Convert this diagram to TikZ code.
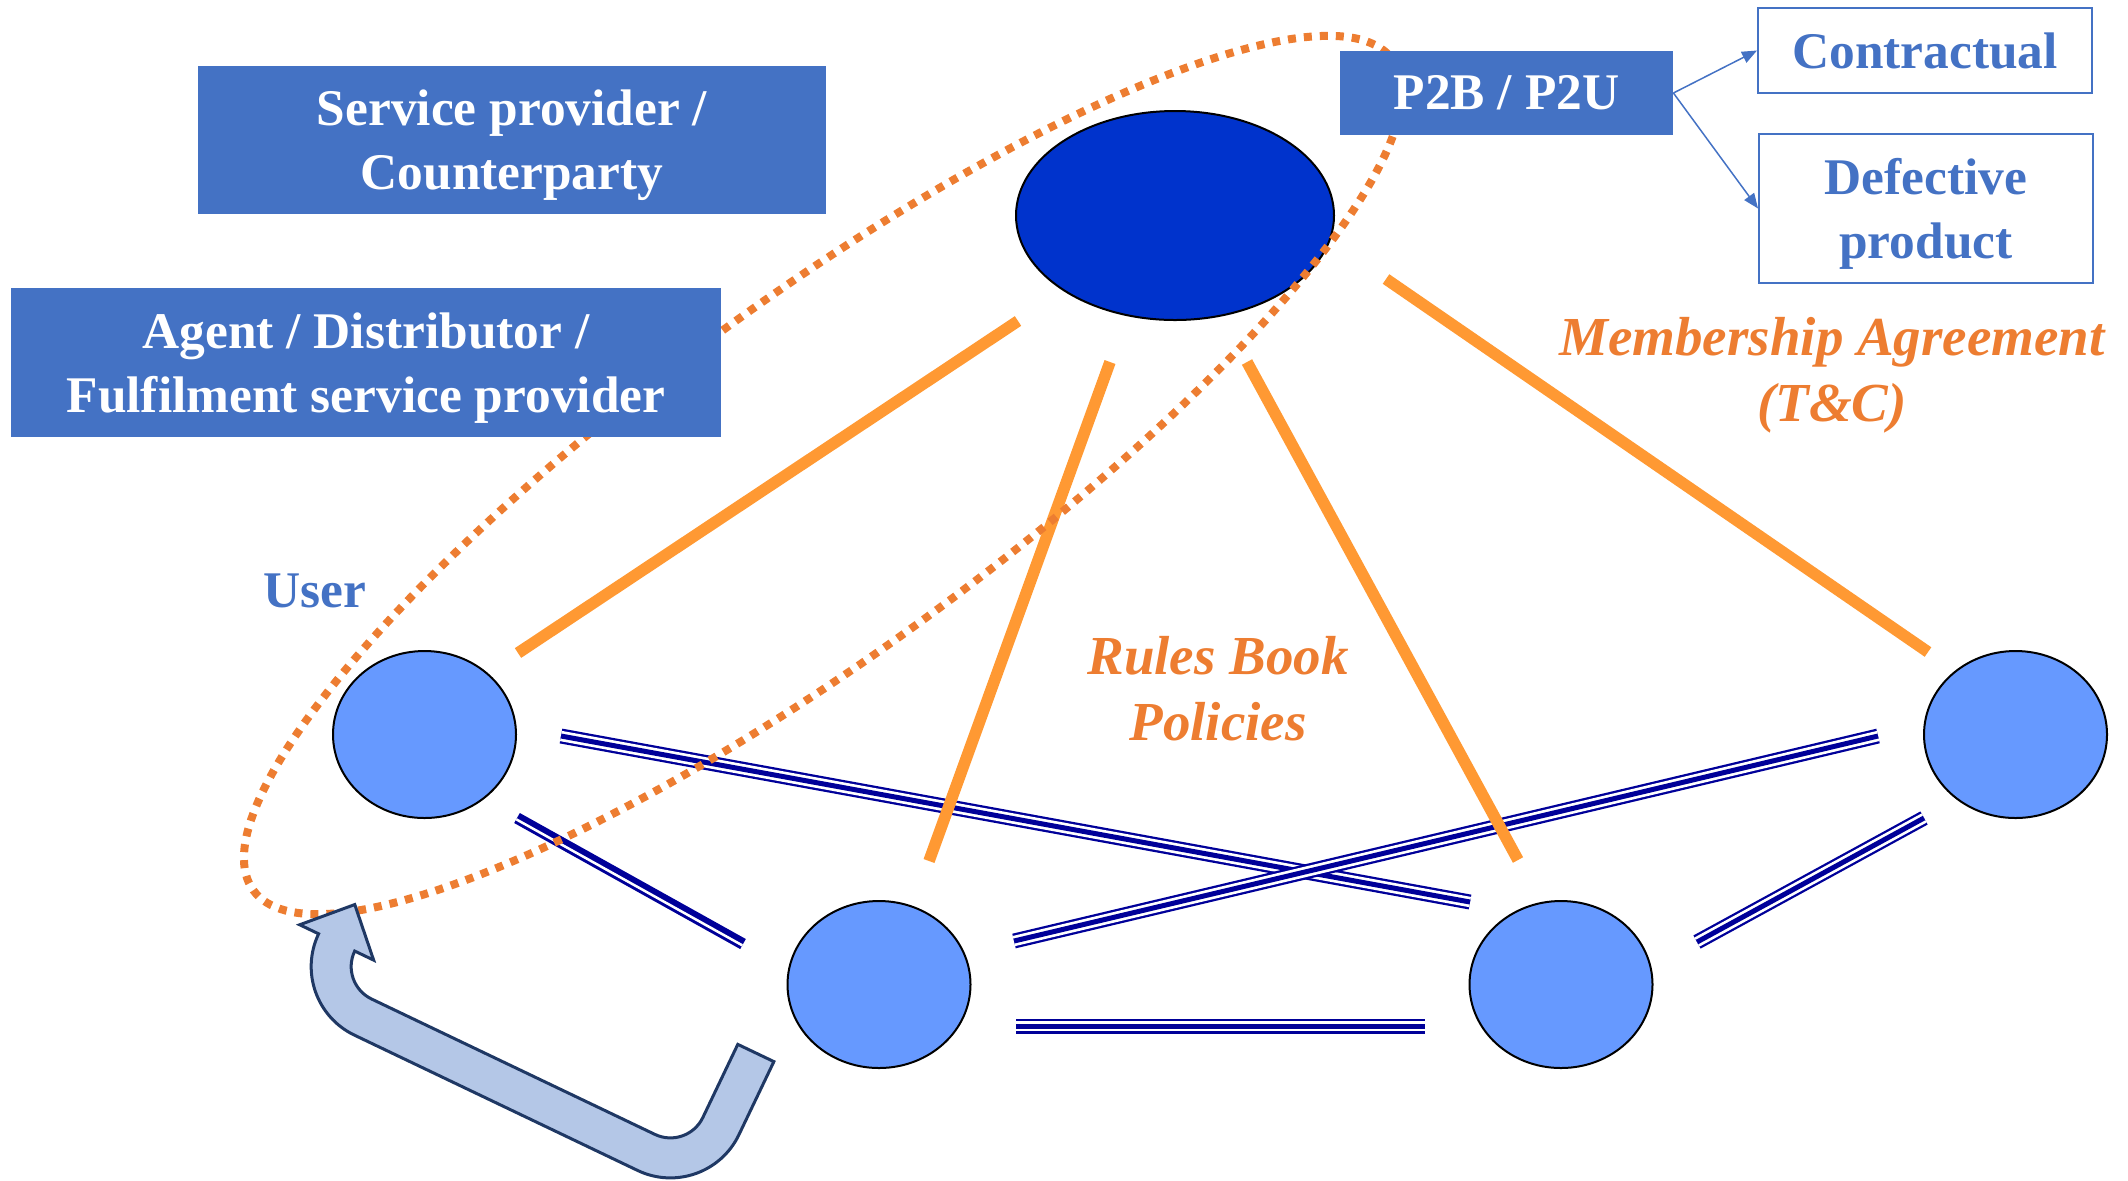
\documentclass[tikz,border=0pt]{standalone}
\usepackage{fontspec}
\setmainfont{Liberation Serif}
\usetikzlibrary{shapes.geometric,arrows.meta,calc}
\definecolor{boxblue}{HTML}{4472C4}
\definecolor{platblue}{HTML}{0033CC}
\definecolor{userblue}{HTML}{6699FF}
\definecolor{navyline}{HTML}{000099}
\definecolor{orangeline}{HTML}{FF9933}
\definecolor{orangetext}{HTML}{ED7D31}
\definecolor{arrowfill}{HTML}{B4C7E7}
\definecolor{arrowedge}{HTML}{1F3864}
\begin{document}
\begin{tikzpicture}[x=0.5pt,y=-0.5pt,
  platform/.style={ellipse, draw=black, line width=1pt, fill=platblue,
    minimum width=159pt, minimum height=104.5pt, inner sep=0pt},
  usernode/.style={ellipse, draw=black, line width=1pt, fill=userblue,
    minimum width=91.5pt, minimum height=83.5pt, inner sep=0pt},
  rolebox/.style={rectangle, fill=boxblue, text=white,
    font=\fontsize{25.7}{32}\selectfont\bfseries, align=center, inner sep=0pt},
  outbox/.style={rectangle, draw=boxblue, line width=1pt, fill=white, text=boxblue,
    font=\fontsize{25.7}{32}\selectfont\bfseries, align=center, inner sep=0pt},
  twoline/.style={text depth=0pt},
  contractline/.style={draw=orangeline, line width=5.8pt},
  linkline/.style={draw=navyline, line width=7.5pt,
    postaction={draw=white, line width=5.2pt},
    postaction={draw=navyline, line width=2.5pt}},
  thickthin/.style={draw=navyline, line width=5.75pt},
  gapline/.style={draw=white, line width=1.25pt},
  scopering/.style={draw=orangetext, line width=4pt, dash pattern=on 4pt off 4pt},
  uturn/.style={fill=arrowfill, draw=arrowedge, line width=1.5pt},
  pointer/.style={draw=boxblue, line width=0.75pt, -{Triangle[length=7.5pt,width=6pt]}},
  italiclabel/.style={text=orangetext, font=\fontsize{27.5}{33}\selectfont\bfseries\itshape,
    align=center, inner sep=0pt},
  userlabel/.style={text=boxblue, font=\fontsize{25.7}{32}\selectfont\bfseries, inner sep=0pt}
]
\useasboundingbox (0,0) rectangle (2128,1180);

% ellipses
\node[platform] (plat) at (1175,215.5) {};
\node[usernode] (u1) at (424.5,734.5) {};
\node[usernode] (u2) at (879,984.5) {};
\node[usernode] (u3) at (1561,984.5) {};
\node[usernode] (u4) at (2015.5,734.5) {};

% connector end points
\coordinate (l1a) at (561,736);  \coordinate (l1b) at (1470,902);
\coordinate (l2a) at (517,818);  \coordinate (l2b) at (743,944);
\coordinate (l3a) at (1014,941); \coordinate (l3b) at (1878,736);
\coordinate (l4a) at (1016,1026); \coordinate (l4b) at (1425,1026);
\coordinate (l5a) at (1697,942); \coordinate (l5b) at (1924,818);

\coordinate (o1a) at (1018,321); \coordinate (o1b) at (518,653);
\coordinate (o2a) at (1110,362); \coordinate (o2b) at (929,861);
\coordinate (o3a) at (1247,362); \coordinate (o3b) at (1518,860);
\coordinate (o4a) at (1386,279); \coordinate (o4b) at (1928,652);

% user-to-user links
\draw[linkline] (l1a) -- (l1b);
\draw[thickthin] (l2a) -- (l2b);
\draw[gapline] ($(l2a)!0.75pt!-90:(l2b)$) -- ($(l2b)!0.75pt!90:(l2a)$);
\draw[linkline] (l3a) -- (l3b);
\draw[linkline] (l4a) -- (l4b);
\draw[linkline] (l5a) -- (l5b);

% platform-to-user contracts
\draw[contractline] (o1a) -- (o1b);
\draw[contractline] (o2a) -- (o2b);
\draw[contractline] (o3a) -- (o3b);
\draw[contractline] (o4a) -- (o4b);

% dotted ring
\draw[scopering, rotate around={36.1:(823,475)}] (823,475) ellipse [x radius=705, y radius=176];

% U-turn arrow
\begin{scope}[shift={(706.2,1203.2)}, x={(-0.451pt,0.2155pt)}, y={(0.2155pt,0.451pt)}]
\draw[uturn] (0,157) -- (0,76) .. controls (0,34) and (34,0) .. (76,0) -- (390,0)
  .. controls (432,0) and (466,34) .. (466,76) -- (487,76) -- (446,118) -- (405,76) -- (426,76)
  .. controls (426,56.1) and (409.9,40) .. (390,40) -- (76,40)
  .. controls (56.1,40) and (40,56.1) .. (40,76) -- (40,157) -- cycle;
\end{scope}

% boxes
\node[rolebox, twoline, minimum width=314pt, minimum height=74pt] (sp) at (512,140) {Service provider /\\Counterparty};
\node[rolebox, twoline, minimum width=355pt, minimum height=74.5pt] (ag) at (366,362.5) {Agent / Distributor /\\Fulfilment service provider};
\node[rolebox, minimum width=166.5pt, minimum height=42pt] (p2b) at (1506.5,93) {P2B / P2U};
\node[outbox, minimum width=167pt, minimum height=42.5pt] (contr) at (1925,50.5) {Contractual};
\node[outbox, twoline, minimum width=167pt, minimum height=74.5pt] (defect) at (1926,208.5) {Defective\\product};

\draw[pointer] (p2b.east) -- (contr.west);
\draw[pointer] (p2b.east) -- (defect.west);

% labels
\node[userlabel, anchor=base] (userlbl) at (315,607) {User};
\node[italiclabel] (rules) at (1218,689) {Rules Book\\Policies};
\node[italiclabel] (member) at (1832,375) {Membership Agreement\\(T\&C)};
\end{tikzpicture}
\end{document}
